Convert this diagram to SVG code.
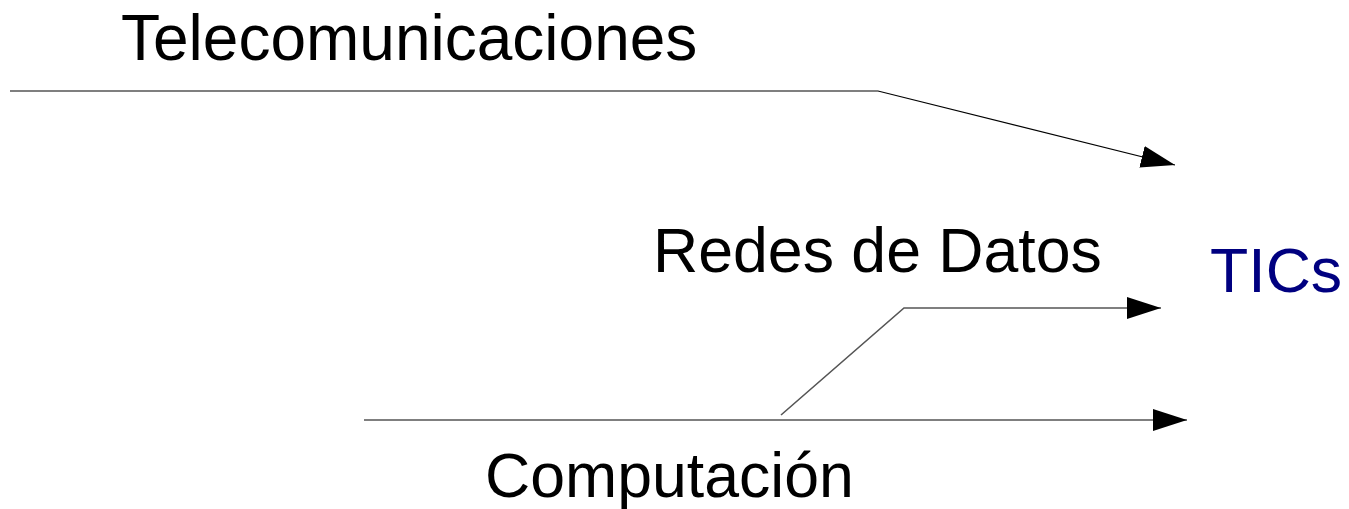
<svg xmlns="http://www.w3.org/2000/svg" width="1349" height="509" viewBox="0 0 1349 509">
<defs>
<style>
.lbl{font-family:"Liberation Sans",Arial,sans-serif;font-size:62.6px;fill:#000}
.big{font-size:64px}
.tic{fill:#000080}
.ln{fill:none;stroke:#000;stroke-width:1.2}
.ln2{fill:none;stroke:#555;stroke-width:1.6}
</style>
<marker id="ah" markerUnits="userSpaceOnUse" markerWidth="36" markerHeight="24" refX="34" refY="11" orient="auto" viewBox="0 0 36 24">
<path d="M0,0 L34,11 L0,22 z" fill="#000"/>
</marker>
</defs>
<g id="connectors">
<polyline class="ln" points="10,91 878,91 1175,165" marker-end="url(#ah)"/>
<polyline class="ln2" points="781,415 904,308 1161,308" marker-end="url(#ah)"/>
<line class="ln2" x1="364" y1="420" x2="1187" y2="420" marker-end="url(#ah)"/>
</g>
<g id="telecomunicaciones"><text class="lbl big" x="121" y="60">Telecomunicaciones</text></g>
<g id="redes"><text class="lbl" x="653" y="272">Redes de Datos</text></g>
<g id="computacion"><text class="lbl" x="485" y="497">Computación</text></g>
<g id="tics"><text class="lbl tic" x="1210" y="292">TICs</text></g>
</svg>
